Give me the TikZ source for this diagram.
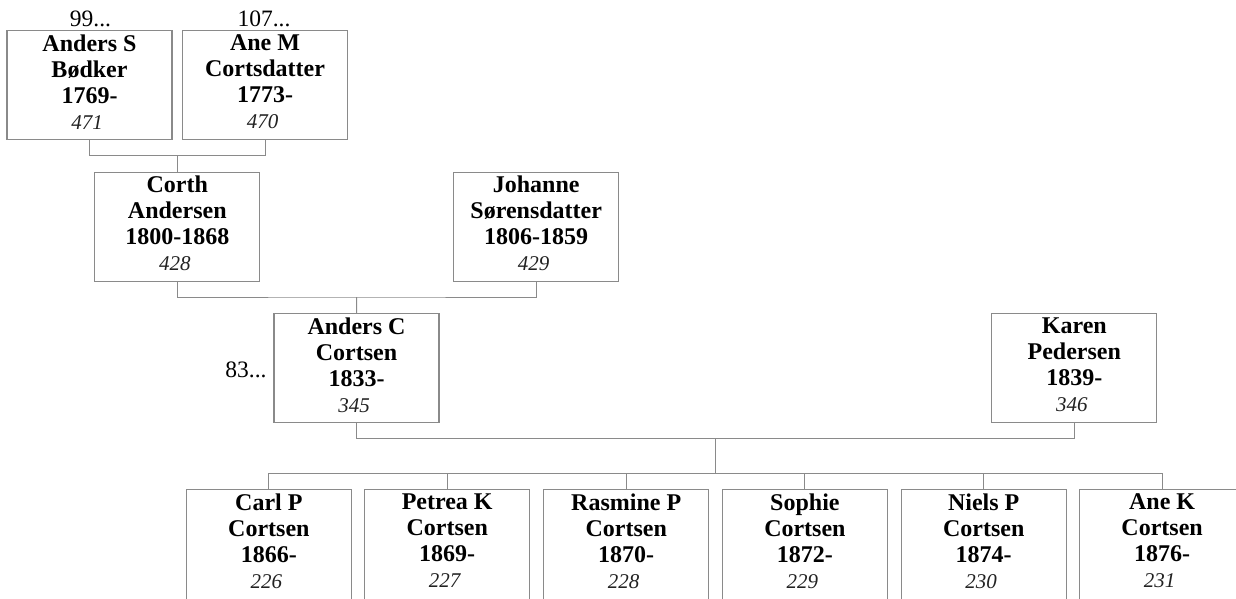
\documentclass[tikz,border=0pt]{standalone}
\usepackage{fontspec}
\setmainfont{Liberation Serif}
\definecolor{boxgray}{HTML}{8A8A8A}
\definecolor{numgray}{HTML}{222222}
\newcommand\refnum[1]{{\fontsize{21}{26}\selectfont\mdseries\itshape\color{numgray}#1}\hspace*{5pt}}
\newcommand\openyr[1]{#1\hspace*{6pt}}
\begin{document}
\begin{tikzpicture}[x=1pt,y=-1pt,
  box/.style={draw=boxgray, line width=1.2pt, minimum width=165pt, minimum height=109pt, inner sep=0pt, fill=white},
  kidbox/.style={box, minimum height=112pt},
  conn/.style={draw=boxgray, line width=1pt},
  nm/.style={align=center, inner sep=0pt, anchor=north, font=\fontsize{24}{26}\selectfont\bfseries},
  more/.style={font=\fontsize{23.5}{26}\selectfont, inner sep=0pt}]
\useasboundingbox (0,0) rectangle (1236,598);
\begin{scope}
\clip (0,0) rectangle (1236,598);
% generation 1
\node[box] (A) at (89.5,85.3) {};
\node[box] (B) at (265,85.3) {};
% generation 2
\node[box] (C) at (177.3,226.7) {};
\node[box] (D) at (536.2,226.7) {};
% generation 3
\node[box] (E) at (356.5,368.2) {};
\node[box] (F) at (1074.3,368.2) {};
% children
\node[kidbox] (k1) at (268.9,545.5) {};
\node[kidbox] (k2) at (447.2,545.5) {};
\node[kidbox] (k3) at (626.2,545.5) {};
\node[kidbox] (k4) at (804.9,545.5) {};
\node[kidbox] (k5) at (983.7,545.5) {};
\node[kidbox] (k6) at (1162.1,545.5) {};
% texts
\node[nm] (tA) at ([yshift=-4.5pt]A.north) {Anders S\\Bødker\\\openyr{1769-}\\\refnum{471}};
\node[nm] (tB) at ([yshift=-4.5pt]B.north) {Ane M\\Cortsdatter\\\openyr{1773-}\\\refnum{470}};
\node[nm] (tC) at ([yshift=-4.5pt]C.north) {Corth\\Andersen\\1800-1868\\\refnum{428}};
\node[nm] (tD) at ([yshift=-4.5pt]D.north) {Johanne\\Sørensdatter\\1806-1859\\\refnum{429}};
\node[nm] (tE) at ([yshift=-4.5pt]E.north) {Anders C\\Cortsen\\\openyr{1833-}\\\refnum{345}};
\node[nm] (tF) at ([yshift=-4.5pt]F.north) {Karen\\Pedersen\\\openyr{1839-}\\\refnum{346}};
\node[nm] (t1) at ([yshift=-4.5pt]k1.north) {Carl P\\Cortsen\\\openyr{1866-}\\\refnum{226}};
\node[nm] (t2) at ([yshift=-4.5pt]k2.north) {Petrea K\\Cortsen\\\openyr{1869-}\\\refnum{227}};
\node[nm] (t3) at ([yshift=-4.5pt]k3.north) {Rasmine P\\Cortsen\\\openyr{1870-}\\\refnum{228}};
\node[nm] (t4) at ([yshift=-4.5pt]k4.north) {Sophie\\Cortsen\\\openyr{1872-}\\\refnum{229}};
\node[nm] (t5) at ([yshift=-4.5pt]k5.north) {Niels P\\Cortsen\\\openyr{1874-}\\\refnum{230}};
\node[nm] (t6) at ([yshift=-4.5pt]k6.north) {Ane K\\Cortsen\\\openyr{1876-}\\\refnum{231}};
% continuation labels
\node[more, anchor=base] (mA) at (90.5,26.7) {99...};
\node[more, anchor=base] (mB) at (264,26.7) {107...};
\node[more, anchor=base east] (mE) at (266.7,377.7) {83...};
% connectors
\coordinate (j1) at (177.3,155.7);
\coordinate (j2) at (356.7,297);
\coordinate (j3) at (715.4,438.3);
\coordinate (j4) at (715.4,473.3);
\draw[conn] (A.south) |- (j1) -| (B.south);
\draw[conn] (j1) -- (C.north);
\draw[conn] (C.south) |- (j2) -| (D.south);
\draw[conn] (j2) -- (E.north);
\draw[conn] (E.south) |- (j3) -| (F.south);
\draw[conn] (j3) -- (j4);
\draw[conn] (k1.north) |- (j4) -| (k6.north);
\draw[conn] (k2.north) -- (k2.north |- j4);
\draw[conn] (k3.north) -- (k3.north |- j4);
\draw[conn] (k4.north) -- (k4.north |- j4);
\draw[conn] (k5.north) -- (k5.north |- j4);
\end{scope}
\end{tikzpicture}
\end{document}
